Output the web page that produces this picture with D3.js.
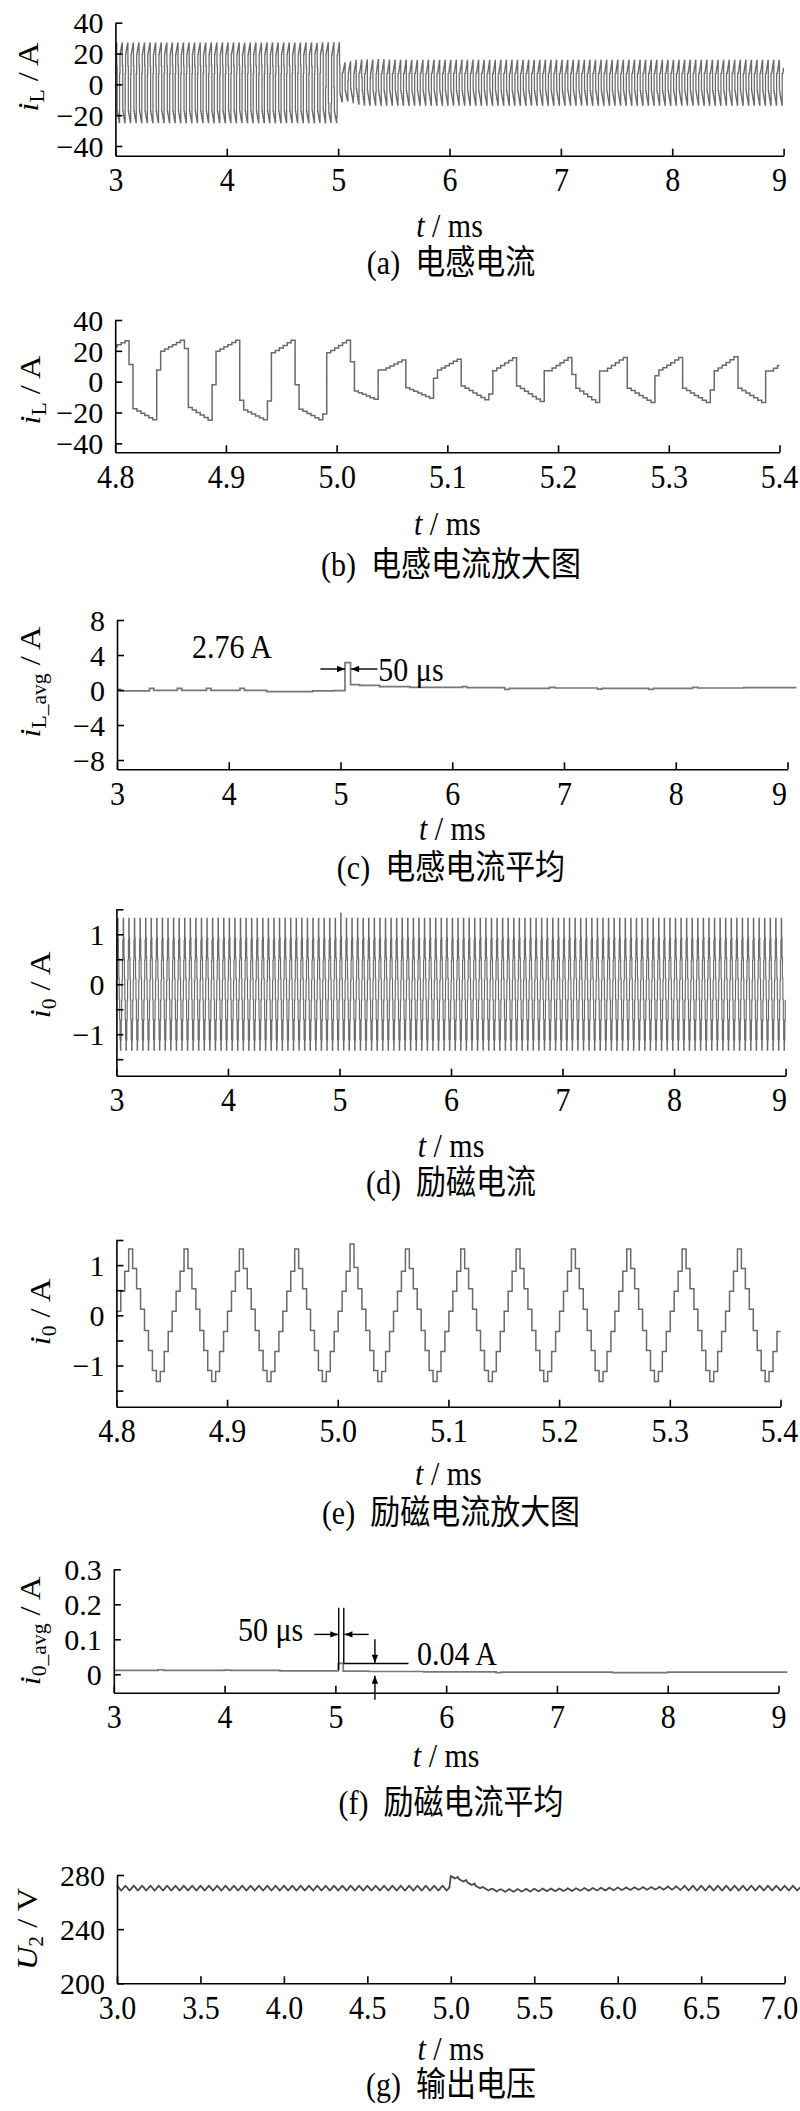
<!DOCTYPE html>
<html><head><meta charset="utf-8">
<script src="https://cdn.jsdelivr.net/npm/d3@7"></script>
<style>
body{margin:0;background:#fff}svg{display:block}
.sy{transform-box:fill-box;transform-origin:center;transform:scaleY(1.12)}
</style>
</head><body>
<svg id="chart" width="800" height="2111"></svg>
<script>
// ===================== DATA =====================
// switching period (ms); every cycle below is sampled with 14 points
const period = 0.05;

// (a)/(b) inductor current i_L (A)
const iLCyclePre  = [12, -17.4, -19, -20.5, -22, -23.4, -24.8, 7, 19.5, 21, 22.5, 24, 25.4, 26.8];
const iLCyclePost = [-4.3, -5.8, -7.4, -8.9, -10.4, -12.0, -13.5, 7.1, 7.1, 8.8, 10.5, 12.2, 13.9, 15.6];
const iLZoomStart = 4.7625;  // start (falling edge) of first cycle in zoom window
const iLZoomCycles = [
  [12, -17, -18.6, -20.2, -21.8, -23.4, -25, 7, 20, 21.3, 22.6, 23.9, 25.2, 26.5],
  [11.2, -17.6, -19, -20.5, -22, -23.4, -24.7, 7.5, 19.8, 21.2, 22.6, 24, 25.4, 26.9],
  [21.5, -16.8, -18.4, -20, -21.6, -23.2, -25, -2, 19.8, 21.2, 22.6, 24, 25.4, 26.9],
  [-12, -18.3, -19.6, -20.9, -22.2, -23.5, -24.7, -12.5, 18.7, 20.3, 21.9, 23.5, 25.2, 26.9],
  [-2, -17.8, -19.2, -20.6, -22, -23.4, -24.7, -21, 18.7, 20.3, 21.9, 23.5, 25.2, 26.9],
  [12.9, -6, -7.1, -8.2, -9.3, -10.4, -11.4, 7.5, 7.5, 8.8, 10.1, 11.4, 12.7, 14],
  [-3.9, -5.0, -6.2, -7.4, -8.5, -9.6, -10.7, 2.2, 7.5, 8.9, 10.4, 11.8, 13.2, 14.6],
  [-2.8, -4.3, -5.8, -7.3, -8.8, -10.3, -11.8, -8, 7.1, 8.8, 10.5, 12.1, 13.8, 15.5],
  [-2.8, -4.5, -6.2, -7.9, -9.6, -11.3, -12.9, 7.1, 7.1, 8.8, 10.5, 12.2, 13.9, 15.7],
  [4.7, -4.3, -6.1, -8.0, -9.8, -11.7, -13.5, 6.9, 6.9, 8.7, 10.5, 12.2, 14, 15.7],
  [-4.3, -5.8, -7.4, -8.9, -10.4, -12.0, -13.5, 3.9, 7.5, 9.1, 10.7, 12.3, 14, 15.7],
  [-4.3, -5.8, -7.4, -8.9, -10.4, -12.0, -13.5, -5.4, 7.1, 8.9, 10.7, 12.5, 14.3, 16.1],
  [-4.3, -5.8, -7.4, -8.9, -10.4, -12.0, -13.5, 6.9, 6.9, 8.7, 10.5, 12.3, 14.1, 15.9]
];

// (c) average inductor current (A), step points
const iLavgT = [3.00, 3.03, 3.29, 3.33, 3.54, 3.58, 3.80, 3.84, 4.10, 4.14, 4.34, 4.64, 4.75, 4.94, 5.04, 5.09, 5.17, 5.35, 5.62, 6.09, 6.13, 6.47, 6.51, 6.87, 6.92, 7.30, 7.34, 7.76, 7.80, 8.15, 8.20, 8.61, 9.08];
const iLavgV = [0.08, -0.11, 0.19, -0.04, 0.19, -0.04, 0.19, -0.04, 0.19, -0.04, -0.19, -0.19, -0.11, -0.08, 3.12, 0.61, 0.53, 0.38, 0.30, 0.38, 0.27, 0.08, 0.19, 0.30, 0.23, 0.11, 0.19, 0.08, 0.19, 0.30, 0.23, 0.27, 0.27];

// (d)/(e) magnetizing current i0 (A), one cycle starting at its peak
const i0Cycle     = [1.32, 0.93, 0.53, 0.12, -0.3, -0.7, -1.1, -1.32, -1.12, -0.72, -0.32, 0.08, 0.48, 0.88];
const i0CycleStep = [1.42, 0.95, 0.53, 0.12, -0.3, -0.7, -1.1, -1.32, -1.12, -0.72, -0.32, 0.08, 0.48, 0.88];
const i0FirstPeak = 4.8111;
const i0StepPeak  = 5.0111;

// (f) average magnetizing current (A), step points
const i0avgT = [3.0, 3.4, 3.45, 4.0, 4.05, 4.5, 5.026, 5.071, 5.3, 5.8, 6.45, 6.5, 7.0, 7.5, 8.0, 8.5, 9.08];
const i0avgV = [0.011, 0.013, 0.011, 0.012, 0.011, 0.010, 0.031, 0.009, 0.008, 0.007, 0.005, 0.006, 0.006, 0.005, 0.006, 0.006, 0.006];

// (g) output voltage U2 (V): per-cycle mean (3.00 ... 7.05 ms) and ripple amplitude
const u2Start = 3.0;
const u2Mean = [
  270.3,270.3,270.3,270.3,270.3,270.3,270.3,270.3,270.3,270.3,
  270.3,270.3,270.3,270.3,270.3,270.3,270.3,270.3,270.3,270.3,
  270.3,270.3,270.3,270.3,270.3,270.3,270.3,270.3,270.3,270.3,
  270.3,270.3,270.3,270.3,270.3,270.3,270.3,270.3,270.3,270.3,
  278.3,276,273.5,271,269.5,268.8,268.6,268.6,268.7,268.8,
  268.9,269.0,269.0,269.1,269.2,269.3,269.4,269.5,269.6,269.7,
  269.8,269.9,270.0,270.1,270.2,270.2,270.3,270.3,
  270.3,270.3,270.3,270.3,270.3,270.3,270.3,270.3,270.3,270.3,270.3,270.3,270.3,270.3
];
const u2Amp = [
  1,1,1,1,1,1,1,1,1,1, 1,1,1,1,1,1,1,1,1,1,
  1,1,1,1,1,1,1,1,1,1, 1,1,1,1,1,1,1,1,1,1,
  0.5,0.5,0.5,0.5,0.55,0.55,0.55,0.55,0.55,0.55,
  0.55,0.55,0.55,0.55,0.55,0.55,0.55,0.55,0.55,0.55,
  0.55,0.55,0.55,0.55,0.55,0.6,0.7,0.8,
  1,1,1,1,1,1,1,1,1,1,1,1,1,1
];
const u2Ripple = [1.7, 0.7, -0.5, -1.7, -0.7, 0.5];

// ticks
const xTicksLong  = [3, 4, 5, 6, 7, 8, 9];
const xTicksZoom  = [4.8, 4.9, 5.0, 5.1, 5.2, 5.3, 5.4];
const xTicksG     = [3.0, 3.5, 4.0, 4.5, 5.0, 5.5, 6.0, 6.5, 7.0];
const yTicksIL    = [-40, -20, 0, 20, 40];
const yTicksILavg = [-8, -4, 0, 4, 8];
const yTicksI0    = [-1.5, -1, -0.5, 0, 0.5, 1, 1.5];
const yTicksI0avg = [0, 0.1, 0.2, 0.3];
const yTicksU2    = [200, 240, 280];

// ===================== HELPERS =====================
function tileSeries(tMin, tMax, firstStart, pick) {
  const pts = [];
  let k = Math.floor((tMin - firstStart) / period) - 1;
  for (;; k++) {
    const cs = firstStart + k * period;
    if (cs > tMax) break;
    const cyc = pick(k, cs);
    const dt = period / cyc.length;
    cyc.forEach((v, j) => pts.push([cs + j * dt, v]));
  }
  const out = [];
  let prev = null;
  for (const p of pts) {
    if (p[0] < tMin) { prev = p; continue; }
    if (p[0] > tMax) break;
    if (!out.length && prev && p[0] > tMin) out.push([tMin, prev[1]]);
    out.push(p);
  }
  const last = out[out.length - 1];
  if (last[0] < tMax) out.push([tMax, last[1]]);
  return out;
}
function iLPick(k, cs) {
  const idx = Math.round((cs - iLZoomStart) / period);
  if (idx >= 0 && idx < iLZoomCycles.length) return iLZoomCycles[idx];
  return cs < iLZoomStart ? iLCyclePre : iLCyclePost;
}
function i0Pick(k, cs) {
  return Math.abs(cs - i0StepPeak) < 0.01 ? i0CycleStep : i0Cycle;
}
const zip = (T, V) => T.map((t, i) => [t, V[i]]);

const u2Data = [];
u2Mean.forEach((m, k) => {
  const cs = u2Start + k * period;
  u2Ripple.forEach((r, j) => u2Data.push([cs + j * period / u2Ripple.length, m + u2Amp[k] * r]));
});

// ===================== DRAW =====================
const SERIF = '"Liberation Serif","Times New Roman",serif';
const CJK = '"Liberation Serif","Noto Sans CJK SC",sans-serif';
const svg = d3.select('#chart');
const fmtInt = d => d3.format('d')(d).replace('-', '\u2212');
const fmt1 = d => d.toFixed(1);

const panels = [
  {x0:115.4, x1:783.6, yTop:22.7, yBot:155.7, xD:[3,9], yD:[-46.3,40],
   data: tileSeries(3, 9, iLZoomStart, iLPick), curve:d3.curveStepAfter, color:'#6a6a6a', lw:1.25,
   xT:xTicksLong, xF:fmtInt, yT:yTicksIL, yF:fmtInt,
   title:{x:28, y:77, main:'i', sub:'L', unit:' / A'}, tBase:236, cap:'(a)', capText:'电感电流', capBase:273},
  {x0:115.2, x1:779.5, yTop:320, yBot:452.3, xD:[4.8,5.4], yD:[-45.8,40],
   data: tileSeries(4.8, 5.4, iLZoomStart, iLPick), curve:d3.curveStepAfter, color:'#6a6a6a', lw:1.5,
   xT:xTicksZoom, xF:fmt1, yT:yTicksIL, yF:fmtInt,
   title:{x:30, y:390, main:'i', sub:'L', unit:' / A'}, tBase:534, cap:'(b)', capText:'电感电流放大图', capBase:575},
  {x0:117, x1:787.5, yTop:620, yBot:769.3, xD:[3,9], yD:[-9.06,8],
   data: zip(iLavgT, iLavgV), curve:d3.curveStepAfter, color:'#777', lw:1.7,
   xT:xTicksLong, xF:fmtInt, yT:yTicksILavg, yF:fmtInt,
   title:{x:30, y:682, main:'i', sub:'L_avg', unit:' / A'}, tBase:839, cap:'(c)', capText:'电感电流平均', capBase:878},
  {x0:116.4, x1:785.6, yTop:909.3, yBot:1075.7, xD:[3,9], yD:[-1.83,1.5],
   data: tileSeries(3, 9, i0FirstPeak, i0Pick), curve:d3.curveStepAfter, color:'#6a6a6a', lw:1.15,
   xT:xTicksLong, xF:fmtInt, yT:yTicksI0, yF:d => Number.isInteger(d) ? fmtInt(d) : '',
   title:{x:40, y:985, main:'i', sub:'0', unit:' / A'}, tBase:1156, cap:'(d)', capText:'励磁电流', capBase:1193},
  {x0:116.4, x1:780.5, yTop:1240, yBot:1406.7, xD:[4.8,5.4], yD:[-1.82,1.5],
   data: tileSeries(4.8, 5.4, i0FirstPeak, i0Pick), curve:d3.curveStepAfter, color:'#6a6a6a', lw:1.5,
   xT:xTicksZoom, xF:fmt1, yT:yTicksI0, yF:d => Number.isInteger(d) ? fmtInt(d) : '',
   title:{x:40, y:1312, main:'i', sub:'0', unit:' / A'}, tBase:1484, cap:'(e)', capText:'励磁电流放大图', capBase:1523},
  {x0:113.8, x1:778.5, yTop:1569.3, yBot:1692.7, xD:[3,9], yD:[-0.0526,0.3],
   data: zip(i0avgT, i0avgV), curve:d3.curveStepAfter, color:'#777', lw:1.7,
   xT:xTicksLong, xF:fmtInt, yT:yTicksI0avg, yF:d => d === 0 ? '0' : d.toFixed(1),
   title:{x:30, y:1631, main:'i', sub:'0_avg', unit:' / A'}, tBase:1766, cap:'(f)', capText:'励磁电流平均', capBase:1813},
  {x0:117, x1:784.6, yTop:1875, yBot:1983.3, xD:[3,7], yD:[200,280],
   data: u2Data, curve:d3.curveLinear, color:'#4a4a4a', lw:1.8,
   xT:xTicksG, xF:fmt1, yT:yTicksU2, yF:fmtInt,
   title:{x:27, y:1929, main:'U', sub:'2', unit:' / V'}, tBase:2059, cap:'(g)', capText:'输出电压', capBase:2095}
];

const scales = [];
panels.forEach(p => {
  const g = svg.append('g');
  const x = d3.scaleLinear().domain(p.xD).range([p.x0, p.x1]);
  const y = d3.scaleLinear().domain(p.yD).range([p.yBot, p.yTop]);
  scales.push({x, y});
  g.append('path').datum(p.data)
    .attr('d', d3.line().x(d => x(d[0])).y(d => y(d[1])).curve(p.curve))
    .attr('fill', 'none').attr('stroke', p.color).attr('stroke-width', p.lw);

  const xa = g.append('g').attr('transform', `translate(0,${p.yBot})`)
    .call(d3.axisBottom(x).tickValues(p.xT).tickFormat(p.xF).tickSizeInner(-7).tickSizeOuter(0).tickPadding(13));
  const ya = g.append('g').attr('transform', `translate(${p.x0},0)`)
    .call(d3.axisLeft(y).tickValues(p.yT).tickFormat(p.yF).tickSizeInner(-7).tickSizeOuter(0).tickPadding(12));
  [xa, ya].forEach(a => {
    a.attr('font-family', SERIF).attr('font-size', 30);
    a.selectAll('.domain').attr('stroke', '#000').attr('stroke-width', 1.6);
    a.selectAll('.tick line').attr('stroke', '#000').attr('stroke-width', 1.6);
    a.selectAll('.tick text').attr('fill', '#000');
  });
  xa.selectAll('.tick text').attr('class', 'sy');
  ya.selectAll('.tick text').attr('dy', '0.34em');
  // keep the last x label inside the page
  xa.selectAll('.tick text').filter((d, i, n) => i === n.length - 1)
    .attr('dx', function () { return x(p.xD[1]) + 19 > 798 ? -(x(p.xD[1]) + 19 - 798) : 0; });

  // y title (rotated)
  const t = g.append('text').attr('font-family', SERIF).attr('font-size', 30).attr('fill', '#000')
    .attr('text-anchor', 'middle')
    .attr('transform', `translate(${p.title.x + 10},${p.title.y}) rotate(-90) scale(1.08,1)`);
  t.append('tspan').attr('font-style', 'italic').text(p.title.main);
  t.append('tspan').attr('font-size', 20).attr('dy', 6).text(p.title.sub);
  t.append('tspan').attr('dy', -6).text(p.title.unit);

  // x title
  const xt = g.append('text').attr('class', 'sy').attr('font-family', SERIF).attr('font-size', 30).attr('fill', '#000')
    .attr('text-anchor', 'middle').attr('x', (p.x0 + p.x1) / 2).attr('y', p.tBase);
  xt.append('tspan').attr('font-style', 'italic').text('t');
  xt.append('tspan').text(' / ms');

  // caption
  const c = g.append('text').attr('class', 'sy').attr('font-family', CJK).attr('font-size', 30).attr('fill', '#000')
    .attr('text-anchor', 'middle').attr('x', 451).attr('y', p.capBase);
  c.append('tspan').attr('font-family', SERIF).text(p.cap + '\u2002');
  c.append('tspan').text(p.capText);
});

// ---------- annotations ----------
function arrow(x1, y1, x2, y2) {
  svg.append('line').attr('x1', x1).attr('y1', y1).attr('x2', x2).attr('y2', y2)
    .attr('stroke', '#000').attr('stroke-width', 1.4);
  const a = Math.atan2(y2 - y1, x2 - x1), L = 8, w = 3.2;
  const p = [[x2, y2],
    [x2 - L * Math.cos(a) + w * Math.sin(a), y2 - L * Math.sin(a) - w * Math.cos(a)],
    [x2 - L * Math.cos(a) - w * Math.sin(a), y2 - L * Math.sin(a) + w * Math.cos(a)]];
  svg.append('path').attr('d', 'M' + p.join('L') + 'Z').attr('fill', '#000');
}
function label(x, y, s) {
  svg.append('text').attr('class', 'sy').attr('x', x).attr('y', y).attr('font-family', SERIF).attr('font-size', 30)
    .attr('fill', '#000').text(s);
}
// (c)
{
  const {x, y} = scales[2];
  label(192, 657, '2.76 A');
  arrow(x(4.82), y(2.4), x(5.04), y(2.4));
  arrow(x(5.33), y(2.4), x(5.095), y(2.4));
  label(x(5.33) + 1, 680, '50 μs');
}
// (f)
{
  const {x, y} = scales[5];
  const L = (t1, v1, t2, v2) => svg.append('line').attr('x1', x(t1)).attr('y1', y(v1))
    .attr('x2', x(t2)).attr('y2', y(v2)).attr('stroke', '#000').attr('stroke-width', 1.4);
  L(5.03, 0.19, 5.03, 0.012);
  L(5.076, 0.19, 5.076, 0.031);
  L(5.076, 0.031, 5.66, 0.031);
  arrow(x(4.81), y(0.114), x(5.026), y(0.114));
  arrow(x(5.30), y(0.114), x(5.082), y(0.114));
  arrow(x(5.357), y(0.1), x(5.357), y(0.033));
  arrow(x(5.357), y(-0.073), x(5.357), y(-0.004));
  label(238, 1640, '50 μs');
  label(417, 1664, '0.04 A');
}
</script>
</body></html>
